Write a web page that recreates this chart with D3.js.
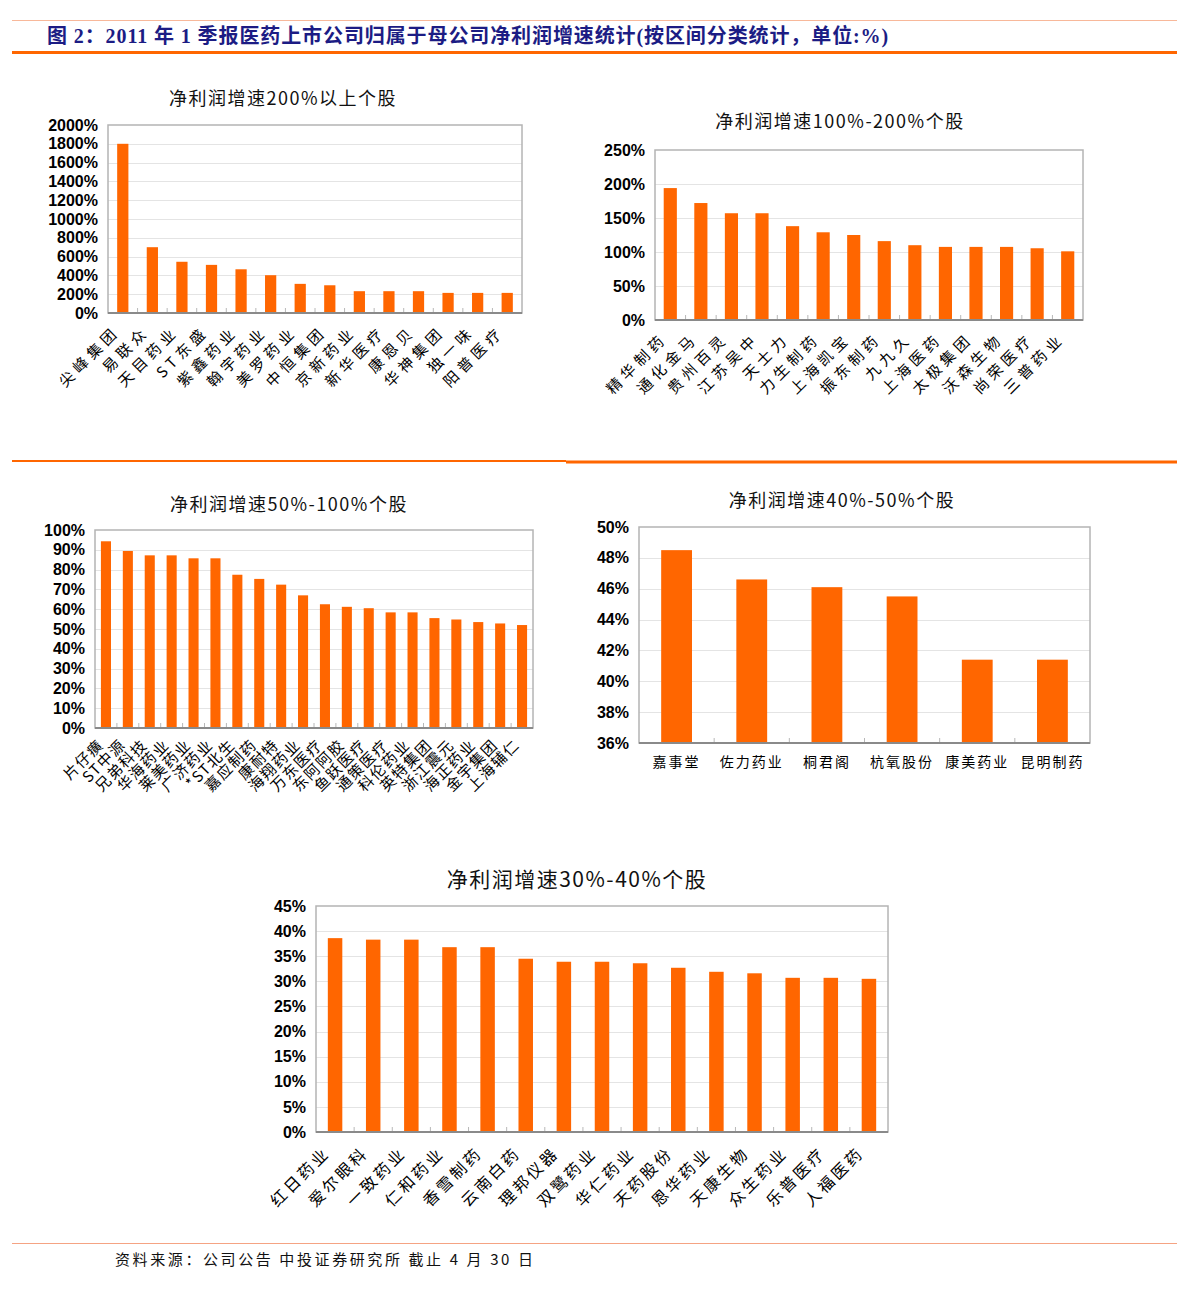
<!DOCTYPE html>
<html>
<head>
<meta charset="utf-8">
<script src="https://cdn.jsdelivr.net/npm/d3@7"></script>
<style>
  body { margin: 0; background: #fff; }
  text { font-family: "Noto Sans CJK SC", "Noto Sans", sans-serif; }
  .ylab text { font-family: "Liberation Sans", Arial, sans-serif; font-weight: bold; font-size: 16px; fill: #000; }
</style>
</head>
<body>
<svg id="page" width="1191" height="1290"></svg>
<script>
// 净利润增速200%以上
const cats200 = ["尖峰集团", "易联众", "天目药业", "ST东盛", "紫鑫药业", "翰宇药业", "美罗药业",
  "中恒集团", "京新药业", "新华医疗", "康恩贝", "华神集团", "独一味", "阳普医疗"];
const vals200 = [1800, 700, 545, 512, 465, 402, 310, 295, 232, 232, 232, 214, 214, 214];
const ticks200 = [0, 200, 400, 600, 800, 1000, 1200, 1400, 1600, 1800, 2000];

// 净利润增速100%-200%
const cats100 = ["精华制药", "通化金马", "贵州百灵", "江苏吴中", "天士力", "力生制药", "上海凯宝",
  "振东制药", "九九久", "上海医药", "太极集团", "沃森生物", "尚荣医疗", "三普药业"];
const vals100 = [194, 172, 157, 157, 138, 129, 125, 116, 110, 107.5, 107.5, 107.5, 105.5, 101];
const ticks100 = [0, 50, 100, 150, 200, 250];

// 净利润增速50%-100%
const cats50 = ["片仔癀", "ST中源", "兄弟科技", "华海药业", "莱美药业", "广济药业", "*ST北生",
  "嘉应制药", "康耐特", "海翔药业", "万东医疗", "东阿阿胶", "鱼跃医疗", "通策医疗", "科伦药业",
  "英特集团", "浙江震元", "海正药业", "金宇集团", "上海辅仁"];
const vals50 = [94.3, 89.4, 87.2, 87.2, 85.7, 85.7, 77.4, 75.3, 72.4, 67, 62.5, 61.2, 60.5,
  58.4, 58.4, 55.5, 54.8, 53.5, 52.8, 52];
const ticks50 = [0, 10, 20, 30, 40, 50, 60, 70, 80, 90, 100];

// 净利润增速40%-50%
const cats40 = ["嘉事堂", "佐力药业", "桐君阁", "杭氧股份", "康美药业", "昆明制药"];
const vals40 = [48.5, 46.6, 46.1, 45.5, 41.4, 41.4];
const ticks40 = [36, 38, 40, 42, 44, 46, 48, 50];

// 净利润增速30%-40%
const cats30 = ["红日药业", "爱尔眼科", "一致药业", "仁和药业", "香雪制药", "云南白药", "理邦仪器",
  "双鹭药业", "华仁药业", "天药股份", "恩华药业", "天康生物", "众生药业", "乐普医疗", "人福医药"];
const vals30 = [38.6, 38.3, 38.3, 36.8, 36.8, 34.5, 33.9, 33.9, 33.6, 32.7, 31.9, 31.6, 30.7, 30.7, 30.5];
const ticks30 = [0, 5, 10, 15, 20, 25, 30, 35, 40, 45];

const svg = d3.select("#page");
const orange = "#ff6600";

// header
svg.append("line").attr("x1", 12).attr("x2", 1177).attr("y1", 20.5).attr("y2", 20.5)
  .attr("stroke", "#f8b89a").attr("stroke-width", 1.2);
svg.append("text").attr("x", 47).attr("y", 43)
  .attr("fill", "#1c1c84").attr("font-size", 20).attr("font-weight", "bold")
  .attr("letter-spacing", "0.9px")
  .style("font-family", "\"Liberation Serif\", \"Noto Sans CJK SC\", serif")
  .text("图 2：2011 年 1 季报医药上市公司归属于母公司净利润增速统计(按区间分类统计，单位:%)");
svg.append("line").attr("x1", 12).attr("x2", 1177).attr("y1", 52.5).attr("y2", 52.5)
  .attr("stroke", orange).attr("stroke-width", 3);

// middle dividers
svg.append("line").attr("x1", 12).attr("x2", 566).attr("y1", 461).attr("y2", 461)
  .attr("stroke", orange).attr("stroke-width", 2);
svg.append("line").attr("x1", 566).attr("x2", 1177).attr("y1", 462).attr("y2", 462)
  .attr("stroke", orange).attr("stroke-width", 3);

// footer
svg.append("line").attr("x1", 12).attr("x2", 1177).attr("y1", 1243.5).attr("y2", 1243.5)
  .attr("stroke", "#f5a383").attr("stroke-width", 1.2);
svg.append("text").attr("x", 115).attr("y", 1265)
  .attr("font-size", 15).attr("letter-spacing", "2.6px").attr("fill", "#111")
  .text("资料来源：公司公告 中投证券研究所 截止 4 月 30 日");

/**
 * draws one bar panel inside the page svg
 */
function drawBars(o) {
  let g = svg.append("g");
  let x = d3.scaleBand().domain(o.cats).range([o.x0, o.x1])
    .paddingInner(o.pad).paddingOuter(o.pad / 2);
  let y = d3.scaleLinear().domain([o.ticks[0], o.ticks[o.ticks.length - 1]]).range([o.y1, o.y0]);

  // gridlines
  g.selectAll(".grid").data(o.ticks.slice(1, -1)).enter().append("line")
    .attr("x1", o.x0).attr("x2", o.x1)
    .attr("y1", d => Math.round(y(d)) + 0.5).attr("y2", d => Math.round(y(d)) + 0.5)
    .attr("stroke", "#e4e4e4").attr("stroke-width", 1);

  // frame
  g.append("rect").attr("x", o.x0).attr("y", o.y0)
    .attr("width", o.x1 - o.x0).attr("height", o.y1 - o.y0)
    .attr("fill", "none").attr("stroke", "#b4b4b4").attr("stroke-width", 1.5);

  // bars
  g.selectAll(".bar").data(o.vals).enter().append("rect")
    .attr("x", (d, i) => x(o.cats[i]))
    .attr("y", d => y(d))
    .attr("width", x.bandwidth())
    .attr("height", d => o.y1 - y(d))
    .attr("fill", orange);

  // category ticks
  let bounds = d3.range(1, o.cats.length).map(i => o.x0 + x.step() * i);
  g.selectAll(".ctick").data(bounds).enter().append("line")
    .attr("x1", d => d).attr("x2", d => d)
    .attr("y1", o.y1).attr("y2", o.y1 - 5)
    .attr("stroke", "#b8b8b8").attr("stroke-width", 1);

  // bottom axis line
  g.append("line").attr("x1", o.x0).attr("x2", o.x1).attr("y1", o.y1).attr("y2", o.y1)
    .attr("stroke", "#8a8a8a").attr("stroke-width", 2);

  // y axis labels
  let ya = g.append("g").attr("class", "ylab").attr("transform", "translate(" + o.x0 + ",0)")
    .call(d3.axisLeft(y).tickValues(o.ticks).tickFormat(d => d + "%").tickSize(0).tickPadding(o.ypad || 10));
  ya.select(".domain").remove();

  // x labels
  if (o.rotate) {
    g.selectAll(".xl").data(o.cats).enter().append("text")
      .attr("transform", d => "translate(" + (x(d) + x.bandwidth() / 2 + o.ldx) + "," + (o.y1 + o.ldy) + ") rotate(-45)")
      .attr("text-anchor", "end").attr("dy", "0.35em")
      .attr("font-size", o.lsize).attr("letter-spacing", o.lspace + "px")
      .attr("fill", "#000")
      .text(d => d);
  } else {
    let xa = g.append("g").attr("transform", "translate(0," + o.y1 + ")")
      .call(d3.axisBottom(x).tickSize(0).tickPadding(14));
    xa.select(".domain").remove();
    xa.selectAll("text").attr("font-size", o.lsize).attr("letter-spacing", o.lspace + "px")
      .attr("fill", "#000").style("font-family", "\"Noto Sans CJK SC\", sans-serif");
  }

  // title
  g.append("text").attr("x", o.tx).attr("y", o.ty).attr("text-anchor", "middle")
    .attr("font-size", o.tsize).attr("letter-spacing", "1.5px").attr("fill", "#111")
    .text(o.title);
}

drawBars({ cats: cats200, vals: vals200, ticks: ticks200, x0: 108, x1: 522, y0: 125, y1: 313,
  pad: 0.62, rotate: true, lsize: 15, lspace: 4.5, ldx: -6, ldy: 16,
  title: "净利润增速200%以上个股", tx: 283, ty: 105, tsize: 18 });

drawBars({ cats: cats100, vals: vals100, ticks: ticks100, x0: 655, x1: 1083, y0: 150, y1: 320,
  pad: 0.57, rotate: true, lsize: 15, lspace: 4.5, ldx: -6, ldy: 16,
  title: "净利润增速100%-200%个股", tx: 840, ty: 128, tsize: 18 });

drawBars({ cats: cats50, vals: vals50, ticks: ticks50, x0: 95, x1: 533, y0: 530, y1: 728,
  pad: 0.54, rotate: true, lsize: 15, lspace: 1.5, ldx: -5, ldy: 14,
  title: "净利润增速50%-100%个股", tx: 289, ty: 511, tsize: 18 });

drawBars({ cats: cats40, vals: vals40, ticks: ticks40, x0: 639, x1: 1090, y0: 527, y1: 743,
  pad: 0.59, rotate: false, lsize: 14, lspace: 2,
  title: "净利润增速40%-50%个股", tx: 842, ty: 507, tsize: 18 });

drawBars({ cats: cats30, vals: vals30, ticks: ticks30, x0: 316, x1: 888, y0: 906, y1: 1132,
  pad: 0.62, rotate: true, lsize: 16, lspace: 3, ldx: -8, ldy: 18,
  title: "净利润增速30%-40%个股", tx: 577, ty: 887, tsize: 21 });
</script>
</body>
</html>
